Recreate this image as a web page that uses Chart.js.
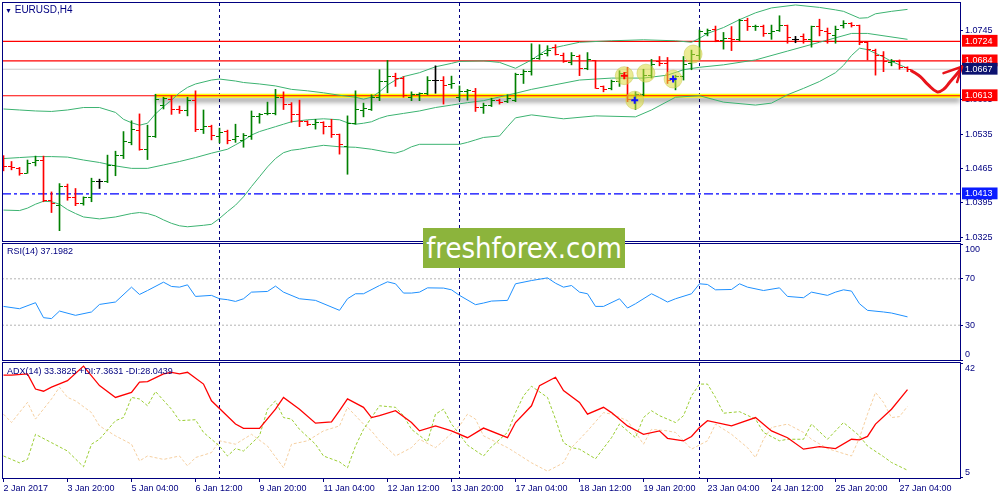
<!DOCTYPE html>
<html>
<head>
<meta charset="utf-8">
<script src="https://cdn.jsdelivr.net/npm/chart.js@4.4.1/dist/chart.umd.min.js"></script>
<style>
  body { margin: 0; background: #fff; }
  #wrap { position: relative; width: 1000px; height: 500px; overflow: hidden; background: #fff; font-family: "Liberation Sans", Arial, sans-serif; }
  #wrap canvas { position: absolute; left: 0; }
  .lbl { position: absolute; color: #000080; font-size: 9px; line-height: 10px; white-space: nowrap; z-index: 4; }
  #wm { position: absolute; left: 423px; top: 228px; width: 202px; height: 40px; background: #8cb43c; color: #fff;
        font: 29px "Liberation Sans Narrow", "DejaVu Sans Condensed", "Liberation Sans", sans-serif; text-align: center; line-height: 40px; z-index: 5; }
</style>
</head>
<body>
<div id="wrap">
  <canvas id="main" width="1000" height="243" style="top:0;width:1000px;height:243px"></canvas>
  <canvas id="rsi" width="1000" height="130" style="top:236px;width:1000px;height:130px"></canvas>
  <canvas id="adx" width="1000" height="145" style="top:355px;width:1000px;height:145px"></canvas>
  <div class="lbl" style="left:5px;top:4px;font-size:10px;line-height:12px"><span style="font-size:7px">&#9660;</span> EURUSD,H4</div>
  <div class="lbl" style="left:7px;top:246px">RSI(14) 37.1982</div>
  <div class="lbl" style="left:7px;top:366px">ADX(14) 33.3825 +DI:7.3631 -DI:28.0439</div>
  <div id="wm">freshforex.com</div>
</div>
<script>
// EURUSD H4, 2 Jan 12:00 .. 27 Jan 08:00, one entry per bar
const open = [1.0472,1.0468,1.0464,1.0455,1.0476,1.0481,1.0399,1.0390,1.0428,1.0406,
  1.0394,1.0406,1.0438,1.0438,1.0470,1.0491,1.0518,1.0542,1.0504,1.0530,
  1.0594,1.0606,1.0584,1.0583,1.0604,1.0545,1.0550,1.0530,1.0540,1.0523,
  1.0521,1.0530,1.0570,1.0576,1.0577,1.0610,1.0596,1.0574,1.0560,1.0555,
  1.0558,1.0551,1.0535,1.0510,1.0556,1.0582,1.0584,1.0610,1.0642,1.0652,
  1.0649,1.0610,1.0615,1.0617,1.0644,1.0644,1.0635,1.0610,1.0621,1.0621,
  1.0589,1.0594,1.0603,1.0601,1.0604,1.0657,1.0662,1.0689,1.0700,1.0712,
  1.0696,1.0681,1.0693,1.0669,1.0685,1.0632,1.0628,1.0642,1.0660,1.0606,
  1.0615,1.0655,1.0683,1.0678,1.0644,1.0652,1.0679,1.0696,1.0740,1.0749,
  1.0725,1.0730,1.0727,1.0766,1.0754,1.0755,1.0740,1.0746,1.0757,1.0727,
  1.0734,1.0727,1.0755,1.0744,1.0735,1.0757,1.0761,1.0757,1.0721,1.0706,
  1.0696,1.0681,1.0683,1.0671];
const high = [1.0491,1.0479,1.0467,1.0482,1.0490,1.0490,1.0417,1.0434,1.0433,1.0424,
  1.0407,1.0445,1.0443,1.0492,1.0500,1.0540,1.0562,1.0576,1.0553,1.0616,
  1.0610,1.0613,1.0592,1.0610,1.0623,1.0584,1.0553,1.0547,1.0543,1.0555,
  1.0536,1.0582,1.0577,1.0600,1.0626,1.0621,1.0599,1.0604,1.0562,1.0565,
  1.0560,1.0565,1.0535,1.0572,1.0623,1.0598,1.0615,1.0666,1.0685,1.0659,
  1.0652,1.0621,1.0619,1.0652,1.0674,1.0652,1.0653,1.0633,1.0626,1.0628,
  1.0598,1.0608,1.0606,1.0615,1.0659,1.0666,1.0719,1.0717,1.0715,1.0717,
  1.0700,1.0701,1.0696,1.0701,1.0685,1.0633,1.0645,1.0664,1.0671,1.0621,
  1.0667,1.0687,1.0693,1.0691,1.0655,1.0693,1.0706,1.0747,1.0749,1.0755,
  1.0742,1.0754,1.0769,1.0771,1.0757,1.0757,1.0757,1.0776,1.0757,1.0734,
  1.0739,1.0755,1.0769,1.0751,1.0755,1.0766,1.0762,1.0757,1.0723,1.0708,
  1.0703,1.0687,1.0686,1.0672];
const low = [1.0460,1.0462,1.0451,1.0455,1.0470,1.0397,1.0375,1.0338,1.0400,1.0389,
  1.0390,1.0397,1.0424,1.0436,1.0450,1.0485,1.0513,1.0502,1.0483,1.0528,
  1.0586,1.0575,1.0577,1.0572,1.0540,1.0536,1.0523,1.0517,1.0515,1.0518,
  1.0508,1.0524,1.0557,1.0574,1.0574,1.0585,1.0559,1.0550,1.0552,1.0545,
  1.0535,1.0528,1.0494,1.0453,1.0555,1.0570,1.0583,1.0603,1.0619,1.0632,
  1.0610,1.0603,1.0603,1.0615,1.0618,1.0596,1.0628,1.0604,1.0604,1.0581,
  1.0577,1.0591,1.0596,1.0599,1.0601,1.0638,1.0655,1.0687,1.0694,1.0696,
  1.0681,1.0676,1.0654,1.0666,1.0628,1.0621,1.0625,1.0632,1.0601,1.0585,
  1.0613,1.0649,1.0674,1.0638,1.0625,1.0645,1.0666,1.0687,1.0735,1.0723,
  1.0708,1.0705,1.0725,1.0746,1.0746,1.0734,1.0728,1.0744,1.0720,1.0721,
  1.0720,1.0712,1.0735,1.0720,1.0720,1.0751,1.0753,1.0717,1.0686,1.0655,
  1.0662,1.0674,1.0667,1.0662];
const close = [1.0468,1.0466,1.0455,1.0475,1.0481,1.0400,1.0394,1.0428,1.0406,1.0394,
  1.0406,1.0438,1.0438,1.0470,1.0491,1.0519,1.0545,1.0504,1.0530,1.0606,
  1.0608,1.0585,1.0583,1.0604,1.0545,1.0550,1.0531,1.0538,1.0521,1.0530,
  1.0533,1.0570,1.0574,1.0577,1.0610,1.0596,1.0574,1.0560,1.0555,1.0558,
  1.0550,1.0535,1.0513,1.0556,1.0584,1.0586,1.0610,1.0642,1.0653,1.0649,
  1.0613,1.0615,1.0617,1.0644,1.0644,1.0633,1.0638,1.0621,1.0623,1.0589,
  1.0593,1.0603,1.0600,1.0608,1.0657,1.0662,1.0689,1.0697,1.0706,1.0698,
  1.0683,1.0694,1.0669,1.0686,1.0628,1.0626,1.0642,1.0659,1.0606,1.0615,
  1.0655,1.0676,1.0678,1.0645,1.0652,1.0676,1.0698,1.0744,1.0746,1.0725,
  1.0730,1.0727,1.0766,1.0755,1.0755,1.0739,1.0744,1.0757,1.0732,1.0727,
  1.0727,1.0754,1.0746,1.0739,1.0749,1.0761,1.0757,1.0721,1.0708,1.0696,
  1.0683,1.0683,1.0671,1.0667];

// Bollinger bands (20), read at these bar numbers
const bbUpperBars = [0,2,4,6,8,10,12,14,15,16,17,18,19,20,21,22,23,24,26,27,29,30,32,34,36,38,40,42,44,45,46,47,48,49,50,52,54,56,57,60,62,64,66,68,70,72,76,80,84,86,87,88,90,92,94,96,99,102,104,105,107,108,109,111,113];
const bbUpper = [1.0586,1.0584,1.0582,1.0581,1.0584,1.0589,1.0589,1.0579,1.0565,1.0558,1.0553,1.0557,1.0576,1.0591,1.0604,1.0619,1.0630,1.0637,1.0645,1.0647,1.0643,1.0640,1.0637,1.0633,1.0626,1.0623,1.0619,1.0614,1.0610,1.0606,1.0610,1.0621,1.0635,1.0645,1.0652,1.0660,1.0672,1.0679,1.0683,1.0684,1.0681,1.0669,1.0686,1.0708,1.0715,1.0722,1.0725,1.0727,1.0725,1.0722,1.0730,1.0740,1.0752,1.0768,1.0782,1.0792,1.0798,1.0793,1.0788,1.0785,1.0771,1.0772,1.0780,1.0785,1.0789];
const bbMidBars = [0,2,4,6,8,10,12,14,16,18,20,22,24,26,28,29,30,31,32,33,34,35,36,38,40,42,43,44,45,46,47,48,50,52,54,56,58,60,64,66,72,76,80,83,85,87,90,94,98,102,106,108,113];
const bbMid = [1.0485,1.0487,1.0489,1.0489,1.0488,1.0482,1.0477,1.0470,1.0465,1.0465,1.0472,1.0479,1.0487,1.0496,1.0504,1.0513,1.0522,1.0533,1.0540,1.0545,1.0550,1.0555,1.0560,1.0564,1.0566,1.0564,1.0558,1.0555,1.0557,1.0560,1.0567,1.0572,1.0577,1.0582,1.0589,1.0594,1.0599,1.0603,1.0618,1.0626,1.0645,1.0649,1.0649,1.0655,1.0666,1.0671,1.0676,1.0686,1.0704,1.0722,1.0740,1.0740,1.0728];
const bbLowBars = [0,2,3,4,5,6,7,8,9,10,12,14,16,17,18,19,20,21,22,23,25,26,27,28,29,30,31,32,33,34,35,36,37,38,40,42,44,46,48,49,50,51,52,57,58,59,60,62,63,64,66,70,74,79,81,84,87,90,94,96,98,100,102,104,105,106,107,108,110,111,113];
const bbLow = [1.0380,1.0379,1.0384,1.0392,1.0398,1.0397,1.0392,1.0381,1.0373,1.0366,1.0362,1.0366,1.0373,1.0375,1.0373,1.0368,1.0360,1.0353,1.0348,1.0346,1.0349,1.0351,1.0363,1.0377,1.0390,1.0407,1.0428,1.0448,1.0468,1.0485,1.0497,1.0502,1.0504,1.0507,1.0512,1.0509,1.0508,1.0504,1.0498,1.0496,1.0501,1.0509,1.0514,1.0514,1.0518,1.0523,1.0528,1.0531,1.0550,1.0568,1.0574,1.0566,1.0572,1.0570,1.0584,1.0610,1.0613,1.0600,1.0594,1.0598,1.0615,1.0628,1.0642,1.0660,1.0675,1.0695,1.0710,1.0707,1.0692,1.0683,1.0669];

// RSI(14)
const rsiBars = [0,2,4,5,6,7,9,11,12,14,16,17,18,20,21,22,23,24,26,27,28,29,30,31,33,34,35,37,39,42,43,44,45,47,48,49,50,51,52,53,55,56,57,59,60,61,63,64,66,68,69,70,71,72,73,74,75,77,78,79,81,82,83,84,86,87,88,89,91,92,93,95,97,98,100,101,103,104,105,106,107,108,110,111,113];
const rsiValues = [46.2,44.2,49.4,36.5,35.7,42.2,38.5,41.4,47.9,50.0,62.8,56.5,59.9,67.1,63.4,62.8,64.8,54.8,55.7,52.8,52.0,50.5,52.8,58.5,59.1,63.7,58.5,52.8,51.4,42.8,52.8,57.1,57.1,64.2,67.4,65.7,57.7,57.7,58.5,62.2,62.0,60.5,55.7,47.7,49.1,50.8,51.4,65.7,68.5,70.8,66.2,62.8,64.2,58.5,57.1,46.2,46.2,52.8,44.8,48.5,57.1,53.7,50.0,52.8,57.1,65.7,65.1,60.5,60.8,65.7,62.8,59.9,62.2,54.8,53.7,58.5,55.7,58.5,60.5,59.4,48.5,42.8,41.4,40.5,37.2];
const rsiLevels = [70, 30];

// ADX(14), +DI, -DI
const adxBars = [0,1,3,4,5,6,8,10,12,14,16,17,18,20,21,22,23,25,26,27,29,30,32,34,35,37,39,41,42,43,45,46,47,49,51,52,54,56,58,60,63,64,66,67,69,70,72,73,75,76,78,80,82,83,85,86,87,88,91,94,96,98,100,102,104,106,107,108,109,111,113];
const adxValues = [38.1,38.1,38.5,33.6,32.9,34.2,36.3,41.0,34.7,30.9,32.5,35.8,36.0,38.5,39.0,38.5,39.0,35.2,29.8,27.3,22.3,20.9,20.9,27.1,30.9,27.1,22.6,23.0,26.6,30.4,27.7,24.4,25.0,26.6,22.8,20.1,21.7,20.1,17.9,21.0,17.9,22.8,28.2,34.7,37.4,33.1,29.3,25.5,27.7,26.0,21.7,19.0,20.1,17.7,16.9,18.3,21.2,23.4,21.7,24.4,20.1,17.9,14.2,15.0,14.4,17.4,17.2,18.3,22.3,27.1,33.4];
const pdiBars = [0,2,3,4,6,8,10,11,12,14,15,16,17,18,19,21,22,24,25,27,28,29,30,32,33,34,35,36,37,39,40,42,43,44,45,46,47,49,50,51,53,54,55,56,57,58,60,61,63,64,65,66,68,69,70,71,72,74,76,77,79,80,81,82,84,85,86,87,88,89,90,92,94,95,97,98,100,101,103,105,107,108,110,111,113];
const pdiValues = [12.0,9.8,10.9,19.0,16.3,13.6,8.5,15.8,17.4,23.4,24.4,30.9,30.4,28.2,32.8,27.1,23.4,23.7,19.6,15.2,12.0,14.4,13.6,18.5,27.1,29.8,24.4,23.9,20.6,15.8,12.0,10.1,8.2,15.2,20.6,24.4,28.2,27.7,25.0,20.6,16.6,25.5,27.1,22.3,19.0,15.5,12.0,15.0,19.6,26.0,31.4,34.5,30.9,23.9,16.3,14.7,14.2,11.1,17.9,22.3,17.9,24.4,26.6,25.0,22.8,25.0,31.4,35.2,35.2,30.9,25.8,26.3,23.9,19.6,16.9,17.4,17.4,22.3,17.4,22.8,18.5,15.2,11.8,9.9,7.4];
const mdiBars = [0,1,3,4,6,7,8,9,11,12,14,16,17,18,20,22,23,24,26,27,29,31,33,35,36,38,40,42,43,45,46,47,49,51,52,54,55,57,58,59,60,63,64,66,68,70,71,72,73,75,76,78,80,81,83,84,86,88,89,91,93,94,95,96,98,100,101,103,106,107,108,109,110,111,112,113];
const mdiValues = [25.5,22.8,29.3,23.9,30.4,34.2,30.9,29.8,26.0,21.7,18.5,15.8,10.4,12.0,10.9,12.0,8.8,11.5,13.1,16.9,15.8,19.0,15.2,8.2,15.8,16.9,20.1,21.7,27.7,22.3,20.1,16.9,12.0,14.7,17.4,14.7,16.9,21.7,25.5,23.9,18.5,14.7,13.1,9.8,7.1,9.8,14.7,17.4,20.1,26.0,25.5,23.4,15.8,20.6,20.1,19.6,14.2,16.9,22.3,19.0,14.7,11.5,17.4,21.2,22.3,19.6,17.4,14.4,12.0,17.9,25.5,32.5,29.3,24.4,24.7,28.0];

// time axis: a label every 8 bars, week separators at Monday 00:00
const tickLabels = ["2 Jan 2017","3 Jan 20:00","5 Jan 04:00","6 Jan 12:00","9 Jan 20:00","11 Jan 04:00","12 Jan 12:00",
  "13 Jan 20:00","17 Jan 04:00","18 Jan 12:00","19 Jan 20:00","23 Jan 04:00","24 Jan 12:00","25 Jan 20:00","27 Jan 04:00"];
const separatorBars = [27, 57, 87];

// price axis and marked levels
const priceTicks = [1.0325, 1.0395, 1.0465, 1.0535, 1.0605, 1.0675, 1.0745];
const priceTags = [1.0724, 1.0684, 1.0667, 1.0613, 1.0413];
const resistanceLevels = [1.0724, 1.0684];
const bidPrice = 1.0667;
const zoneLevel = 1.0613;
const zoneStartBar = 19;
const supportLevel = 1.0413;

// indicator panel scales
const rsiTicks = [0, 30, 70, 100];
const adxTicks = [5, 42];

// signal circles and the hand drawn forecast arrow
const signalBars = [77.6, 80.3, 78.9, 83.7, 86.2];
const signalPrices = [1.0654, 1.0659, 1.0604, 1.0647, 1.0698];
const crossBars = [77.6, 78.9, 83.7];
const crossPrices = [1.0654, 1.0604, 1.0647];
const arrowBars = [113.5, 114.6, 115.6, 116.7, 117.5, 118.3, 119.4, 119.8];
const arrowPrices = [1.0664, 1.0652, 1.0635, 1.0621, 1.0626, 1.0641, 1.0662, 1.0672];
const arrowWingBars = [117.5, 119.8, 119.2];
const arrowWingPrices = [1.0659, 1.0672, 1.0641];

const NAVY = '#000080';
const X_MIN = -0.1875, X_MAX = 119.5625;
Chart.defaults.font.family = 'Liberation Sans';
Chart.defaults.font.size = 9;

const pts = (xs, ys) => xs.map((x, i) => ({ x, y: ys[i] }));
const kind = i => close[i] > open[i] ? 'up' : close[i] < open[i] ? 'down' : 'doji';
const barColors = { up: '#008000', down: '#ff0000', doji: '#000000' };

function tickImg(color, from) {
  const c = document.createElement('canvas');
  c.width = 7; c.height = 1;
  const g = c.getContext('2d');
  g.fillStyle = color;
  g.fillRect(from, 0, 3, 1);
  return c;
}
const tickImgs = {};
for (const k in barColors) tickImgs[k] = { open: tickImg(barColors[k], 0), close: tickImg(barColors[k], 4) };

const frame = {
  id: 'frame',
  afterDraw(chart) {
    const { ctx, chartArea: a } = chart;
    ctx.save();
    ctx.strokeStyle = NAVY;
    ctx.lineWidth = 1;
    ctx.strokeRect(a.left + 0.5, a.top - 0.5, a.right - a.left, a.bottom - a.top + 1);
    ctx.restore();
  }
};

const zoneShadow = {
  id: 'zoneShadow',
  beforeDatasetDraw(chart, args) {
    if (chart.data.datasets[args.index].shadow) {
      chart.ctx.save();
      chart.ctx.shadowColor = 'rgba(0,0,0,0.45)';
      chart.ctx.shadowBlur = 5;
      chart.ctx.shadowOffsetY = 4;
    }
  },
  afterDatasetDraw(chart, args) {
    if (chart.data.datasets[args.index].shadow) chart.ctx.restore();
  }
};

function xAxis(withLabels) {
  const isSep = c => c.tick && separatorBars.includes(c.tick.value);
  return {
    type: 'linear', min: X_MIN, max: X_MAX, offset: false,
    afterBuildTicks: axis => {
      const vals = separatorBars.slice();
      if (withLabels) tickLabels.forEach((_, i) => vals.push(i * 8));
      axis.ticks = vals.sort((a, b) => a - b).map(v => ({ value: v }));
    },
    afterFit: axis => { axis.height = withLabels ? 22 : 0; axis.paddingLeft = 0; axis.paddingRight = 0; },
    grid: {
      offset: false,
      color: c => isSep(c) ? NAVY : 'rgba(0,0,0,0)',
      tickColor: c => isSep(c) ? 'rgba(0,0,0,0)' : NAVY,
      drawTicks: withLabels, tickLength: 4, lineWidth: 1
    },
    border: { display: false, dash: [3, 3] },
    ticks: {
      display: withLabels, autoSkip: false, maxRotation: 0, align: 'start', padding: 1, color: NAVY,
      callback: v => v % 8 === 0 ? tickLabels[v / 8] : ''
    }
  };
}

function yAxis(min, max, ticks, extra) {
  const base = {
    position: 'right', min, max,
    afterBuildTicks: axis => { axis.ticks = ticks.map(v => ({ value: v })); },
    afterFit: axis => { axis.width = 40; axis.paddingTop = 0; axis.paddingBottom = 0; },
    grid: { drawOnChartArea: false, drawTicks: true, tickLength: 3, tickColor: NAVY },
    border: { display: false },
    ticks: { autoSkip: false, padding: 2, color: NAVY }
  };
  if (extra) {
    Object.assign(base.grid, extra.grid || {});
    Object.assign(base.ticks, extra.ticks || {});
  }
  return base;
}
// top and bottom labels sit just inside the panel: an empty line pushes them off the edge
const edgeText = (v, lo, hi) => v === hi ? ['', String(v)] : v === lo ? [String(v), ''] : String(v);

const common = {
  responsive: false, animation: false, events: [],
  plugins: { legend: { display: false }, tooltip: { enabled: false } }
};

function line(data, color, width, dash, order) {
  return { type: 'line', data, borderColor: color, borderWidth: width, borderDash: dash || [], pointRadius: 0, tension: 0, order: order || 5 };
}
function hline(y, color, width, dash, fromX, order) {
  return line([{ x: fromX === undefined ? X_MIN : fromX, y }, { x: X_MAX, y }], color, width, dash, order || 6);
}

// ---------- price panel ----------
const idx = open.map((_, i) => i);
const tagColors = { 1.0724: '#ff0000', 1.0684: '#ff0000', 1.0667: '#0c1270', 1.0613: '#ff0000', 1.0413: '#0a1cff' };
const isTag = c => c.tick && priceTags.includes(c.tick.value);

const zoneLine = hline(zoneLevel, '#ffff00', 4, [], zoneStartBar, 9);
zoneLine.shadow = true;

new Chart(document.getElementById('main'), {
  type: 'line',
  data: {
    datasets: [
      { type: 'bar', data: idx.map(i => ({ x: i, y: [low[i], high[i]] })), backgroundColor: c => barColors[kind(c.dataIndex)],
        barThickness: 1, borderWidth: 0, order: 2 },
      { type: 'scatter', data: idx.map(i => ({ x: i, y: open[i] })), pointStyle: c => tickImgs[kind(c.dataIndex)].open, pointRadius: 3, order: 2 },
      { type: 'scatter', data: idx.map(i => ({ x: i, y: close[i] })), pointStyle: c => tickImgs[kind(c.dataIndex)].close, pointRadius: 3, order: 2 },
      line(pts(bbUpperBars, bbUpper), '#3cb371', 1, [], 4),
      line(pts(bbMidBars, bbMid), '#3cb371', 1, [], 4),
      line(pts(bbLowBars, bbLow), '#3cb371', 1, [], 4),
      ...resistanceLevels.map(v => hline(v, '#ff0000', 1.2)),
      hline(bidPrice, '#cccccc', 1),
      hline(zoneLevel, '#ff0000', 1.2, [], undefined, 7),
      zoneLine,
      hline(supportLevel, '#0000ff', 1.3, [9, 3, 3, 3]),
      { type: 'scatter', data: pts(signalBars, signalPrices), pointRadius: 9, pointStyle: 'circle',
        backgroundColor: 'rgba(218,218,60,0.55)', borderColor: 'rgba(200,200,80,0.5)', borderWidth: 1, order: 0 },
      { type: 'scatter', data: pts(crossBars, crossPrices), pointStyle: 'cross', pointRadius: 3.5, borderWidth: 2,
        borderColor: ['#ff0000', '#1010ff', '#1010ff'], order: -1 },
      Object.assign(line(pts(arrowBars, arrowPrices), '#e8141b', 3, [], -2), { tension: 0.4, clip: false, borderCapStyle: 'round' }),
      Object.assign(line(pts(arrowWingBars, arrowWingPrices), '#e8141b', 2.5, [], -2), { clip: false, borderCapStyle: 'round', borderJoinStyle: 'round' })
    ]
  },
  options: Object.assign({}, common, {
    layout: { autoPadding: false, padding: { top: 3, left: 2, right: 0, bottom: 2 } },
    scales: {
      x: xAxis(false),
      y: yAxis(1.0317, 1.0802, priceTicks.concat(priceTags), {
        grid: { tickColor: c => isTag(c) ? 'rgba(0,0,0,0)' : NAVY },
        ticks: {
          callback: v => v.toFixed(4),
          color: c => isTag(c) ? '#ffffff' : NAVY,
          showLabelBackdrop: c => isTag(c),
          backdropColor: c => isTag(c) ? tagColors[c.tick.value] : 'rgba(0,0,0,0)',
          backdropPadding: { left: 3, right: 5, top: 1, bottom: 0 }
        }
      })
    }
  }),
  plugins: [frame, zoneShadow]
});

// ---------- RSI panel ----------
new Chart(document.getElementById('rsi'), {
  type: 'line',
  data: {
    datasets: [
      line(pts(rsiBars, rsiValues), '#1e90ff', 1, [], 1),
      ...rsiLevels.map(v => hline(v, '#b4b4b4', 1, [2, 2]))
    ]
  },
  options: Object.assign({}, common, {
    layout: { autoPadding: false, padding: { top: 8, left: 2, right: 0, bottom: 6 } },
    scales: {
      x: xAxis(false),
      y: yAxis(0, 100, rsiTicks, { ticks: { callback: v => edgeText(v, rsiTicks[0], rsiTicks[rsiTicks.length - 1]) } })
    }
  }),
  plugins: [frame]
});

// ---------- ADX panel ----------
new Chart(document.getElementById('adx'), {
  type: 'line',
  data: {
    datasets: [
      line(pts(adxBars, adxValues), '#ff0000', 1.3, [], 1),
      line(pts(pdiBars, pdiValues), '#9acd32', 1, [3, 2], 2),
      line(pts(mdiBars, mdiValues), '#f5cfa0', 1, [3, 2], 3)
    ]
  },
  options: Object.assign({}, common, {
    layout: { autoPadding: false, padding: { top: 8, left: 2, right: 0, bottom: 0 } },
    scales: {
      x: xAxis(true),
      y: yAxis(4.9, 42, adxTicks, { ticks: { callback: v => edgeText(v, adxTicks[0], adxTicks[1]) } })
    }
  }),
  plugins: [frame]
});
</script>
</body>
</html>
